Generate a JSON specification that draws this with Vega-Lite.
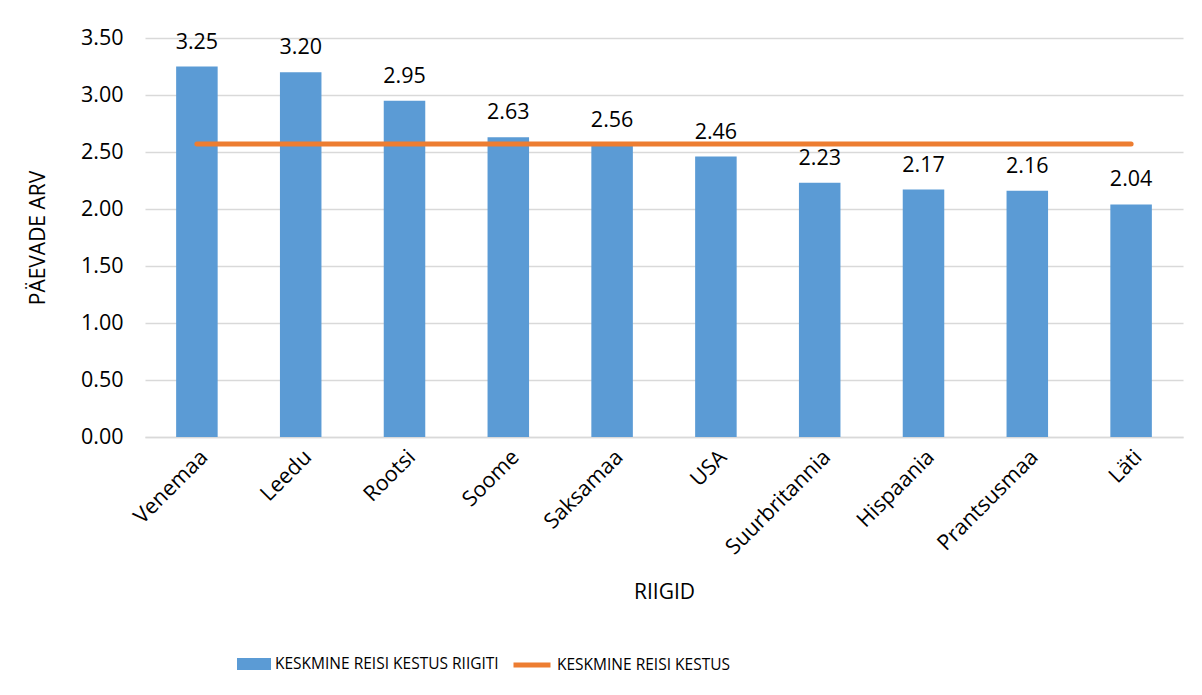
{
  "$schema": "https://vega.github.io/schema/vega-lite/v6.json",
  "width": 1038,
  "height": 399,
  "autosize": "none",
  "padding": {"left": 145, "top": 38, "right": 19, "bottom": 258},
  "background": "white",
  "config": {
    "font": "Open Sans",
    "view": {"stroke": null},
    "axis": {"labelFont": "Open Sans", "titleFont": "Open Sans", "labelColor": "#000000", "titleColor": "#000000", "titleFontWeight": "normal"}
  },
  "data": {
    "values": [
      {"riik": "Venemaa", "kestus": 3.25, "keskmine": 2.57, "s1": "KESKMINE REISI KESTUS RIIGITI", "s2": "KESKMINE REISI KESTUS"},
      {"riik": "Leedu", "kestus": 3.20, "keskmine": 2.57, "s1": "KESKMINE REISI KESTUS RIIGITI", "s2": "KESKMINE REISI KESTUS"},
      {"riik": "Rootsi", "kestus": 2.95, "keskmine": 2.57, "s1": "KESKMINE REISI KESTUS RIIGITI", "s2": "KESKMINE REISI KESTUS"},
      {"riik": "Soome", "kestus": 2.63, "keskmine": 2.57, "s1": "KESKMINE REISI KESTUS RIIGITI", "s2": "KESKMINE REISI KESTUS"},
      {"riik": "Saksamaa", "kestus": 2.56, "keskmine": 2.57, "s1": "KESKMINE REISI KESTUS RIIGITI", "s2": "KESKMINE REISI KESTUS"},
      {"riik": "USA", "kestus": 2.46, "keskmine": 2.57, "s1": "KESKMINE REISI KESTUS RIIGITI", "s2": "KESKMINE REISI KESTUS"},
      {"riik": "Suurbritannia", "kestus": 2.23, "keskmine": 2.57, "s1": "KESKMINE REISI KESTUS RIIGITI", "s2": "KESKMINE REISI KESTUS"},
      {"riik": "Hispaania", "kestus": 2.17, "keskmine": 2.57, "s1": "KESKMINE REISI KESTUS RIIGITI", "s2": "KESKMINE REISI KESTUS"},
      {"riik": "Prantsusmaa", "kestus": 2.16, "keskmine": 2.57, "s1": "KESKMINE REISI KESTUS RIIGITI", "s2": "KESKMINE REISI KESTUS"},
      {"riik": "Läti", "kestus": 2.04, "keskmine": 2.57, "s1": "KESKMINE REISI KESTUS RIIGITI", "s2": "KESKMINE REISI KESTUS"}
    ]
  },
  "encoding": {
    "x": {
      "field": "riik", "type": "nominal", "sort": null,
      "scale": {"paddingInner": 0.6, "paddingOuter": 0.3},
      "axis": {
        "title": "RIIGID", "titleFontSize": 21, "titleY": 155, "titleBaseline": "middle",
        "labelAngle": -45, "labelFontSize": 21.5, "labelPadding": 9,
        "ticks": false, "domainColor": "#D9D9D9", "domainWidth": 1.5, "grid": false
      }
    }
  },
  "layer": [
    {
      "mark": {"type": "bar", "color": "#5B9BD5"},
      "encoding": {
        "y": {
          "field": "kestus", "type": "quantitative",
          "scale": {"domain": [0, 3.5]},
          "axis": {
            "title": "PÄEVADE ARV", "titleFontSize": 21, "titleX": -107, "titleAlign": "center", "titleBaseline": "middle",
            "format": ".2f", "values": [0, 0.5, 1, 1.5, 2, 2.5, 3, 3.5],
            "labelFontSize": 21.5, "labelPadding": 22, "ticks": false, "domain": false,
            "gridColor": "#D9D9D9", "gridWidth": 1.5
          }
        },
        "fill": {
          "field": "s1", "type": "nominal",
          "scale": {"range": ["#5B9BD5"]},
          "legend": {
            "title": null, "orient": "none", "legendX": 92, "legendY": 609,
            "symbolType": "M-1,-0.35H1V0.35H-1Z", "symbolSize": 1156, "symbolStrokeWidth": 0,
            "labelFont": "Open Sans", "labelFontSize": 15.5, "labelColor": "#000000", "labelOffset": 4, "labelLimit": 0
          }
        }
      }
    },
    {
      "mark": {"type": "text", "baseline": "alphabetic", "dy": -18, "fontSize": 21.5, "color": "#000000"},
      "encoding": {
        "y": {"field": "kestus", "type": "quantitative"},
        "text": {"field": "kestus", "type": "quantitative", "format": ".2f"}
      }
    },
    {
      "mark": {"type": "line", "strokeWidth": 5, "strokeCap": "round"},
      "encoding": {
        "y": {"field": "keskmine", "type": "quantitative"},
        "stroke": {
          "field": "s2", "type": "nominal",
          "scale": {"range": ["#ED7D31"]},
          "legend": {
            "title": null, "orient": "none", "legendX": 366, "legendY": 606,
            "symbolType": "stroke", "symbolSize": 1369, "symbolStrokeWidth": 5,
            "labelFont": "Open Sans", "labelFontSize": 15.5, "labelColor": "#000000", "labelOffset": 4, "labelLimit": 0
          }
        }
      }
    }
  ],
  "resolve": {"scale": {"y": "shared"}}
}
